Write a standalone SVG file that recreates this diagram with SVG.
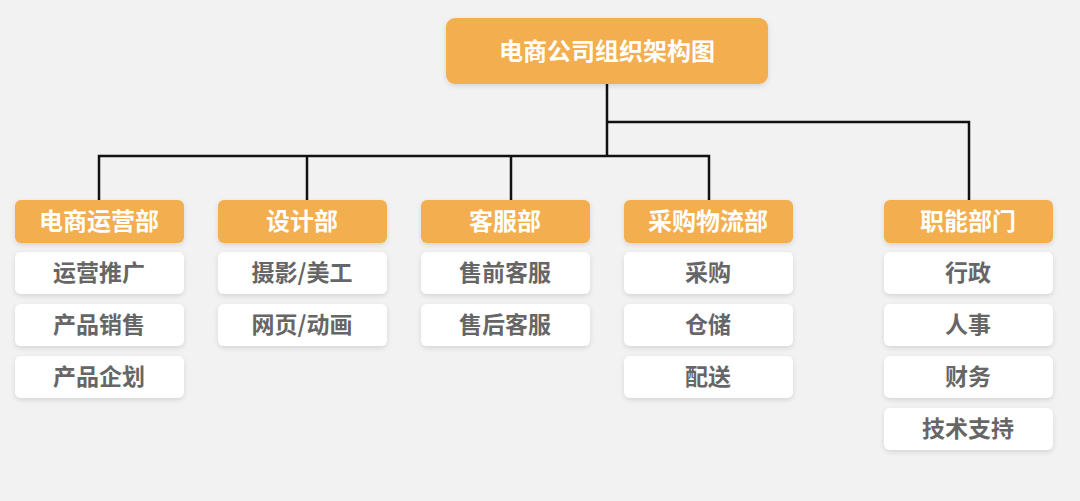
<svg xmlns="http://www.w3.org/2000/svg" width="1080" height="501" viewBox="0 0 1080 501">
<defs>
<filter id="sh" x="-10%" y="-20%" width="120%" height="150%"><feDropShadow dx="0" dy="2" stdDeviation="2.5" flood-color="#000" flood-opacity="0.12"/></filter>
<style>
.h{fill:#f2ae4f;filter:url(#sh)}
.s{fill:#fff;filter:url(#sh)}
.ht{fill:#fff;font-family:"Noto Sans CJK SC",sans-serif;font-weight:bold;font-size:24px;text-anchor:middle;dominant-baseline:central}
.st{fill:#666;font-family:"Noto Sans CJK SC",sans-serif;font-weight:bold;font-size:23px;text-anchor:middle;dominant-baseline:central}
.c{fill:none;stroke:#111;stroke-width:2.5}
</style>
</defs>
<rect width="1080" height="501" fill="#f2f2f2"/>
<g id="connectors">
<path class="c" d="M607 84V156M99 200V156H709V200M307 156V200M511 156V200M607 122H969V200"/>
</g>
<g id="root"><rect class="h" x="446" y="18" width="322" height="66" rx="9"/><text class="ht" x="607" y="49" font-size="25">电商公司组织架构图</text></g>
<g id="d1"><rect class="h" x="15" y="200" width="169" height="43" rx="6"/><text class="ht" x="99" y="219">电商运营部</text></g>
<g id="d2"><rect class="h" x="218" y="200" width="169" height="43" rx="6"/><text class="ht" x="302" y="219">设计部</text></g>
<g id="d3"><rect class="h" x="421" y="200" width="169" height="43" rx="6"/><text class="ht" x="505" y="219">客服部</text></g>
<g id="d4"><rect class="h" x="624" y="200" width="169" height="43" rx="6"/><text class="ht" x="708" y="219">采购物流部</text></g>
<g id="d5"><rect class="h" x="884" y="200" width="169" height="43" rx="6"/><text class="ht" x="968" y="219">职能部门</text></g>
<g id="d1a"><rect class="s" x="15" y="252" width="169" height="42" rx="6"/><text class="st" x="99" y="271">运营推广</text></g>
<g id="d1b"><rect class="s" x="15" y="304" width="169" height="42" rx="6"/><text class="st" x="99" y="323">产品销售</text></g>
<g id="d1c"><rect class="s" x="15" y="356" width="169" height="42" rx="6"/><text class="st" x="99" y="375">产品企划</text></g>
<g id="d2a"><rect class="s" x="218" y="252" width="169" height="42" rx="6"/><text class="st" x="302" y="271">摄影/美工</text></g>
<g id="d2b"><rect class="s" x="218" y="304" width="169" height="42" rx="6"/><text class="st" x="302" y="323">网页/动画</text></g>
<g id="d3a"><rect class="s" x="421" y="252" width="169" height="42" rx="6"/><text class="st" x="505" y="271">售前客服</text></g>
<g id="d3b"><rect class="s" x="421" y="304" width="169" height="42" rx="6"/><text class="st" x="505" y="323">售后客服</text></g>
<g id="d4a"><rect class="s" x="624" y="252" width="169" height="42" rx="6"/><text class="st" x="708" y="271">采购</text></g>
<g id="d4b"><rect class="s" x="624" y="304" width="169" height="42" rx="6"/><text class="st" x="708" y="323">仓储</text></g>
<g id="d4c"><rect class="s" x="624" y="356" width="169" height="42" rx="6"/><text class="st" x="708" y="375">配送</text></g>
<g id="d5a"><rect class="s" x="884" y="252" width="169" height="42" rx="6"/><text class="st" x="968" y="271">行政</text></g>
<g id="d5b"><rect class="s" x="884" y="304" width="169" height="42" rx="6"/><text class="st" x="968" y="323">人事</text></g>
<g id="d5c"><rect class="s" x="884" y="356" width="169" height="42" rx="6"/><text class="st" x="968" y="375">财务</text></g>
<g id="d5d"><rect class="s" x="884" y="408" width="169" height="42" rx="6"/><text class="st" x="968" y="427">技术支持</text></g>
</svg>
